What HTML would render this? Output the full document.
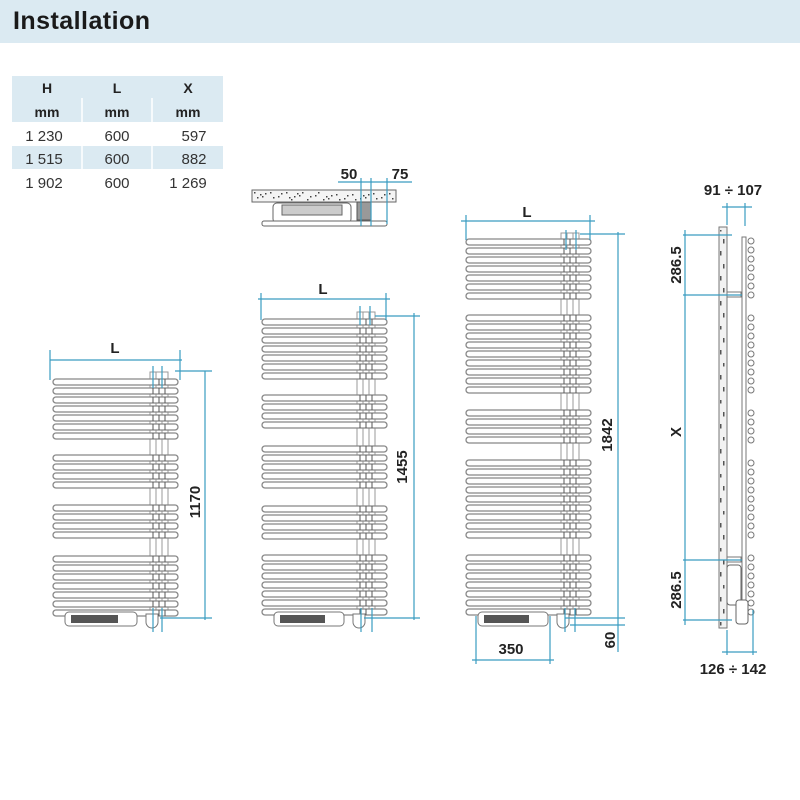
<!DOCTYPE html>
<html><head><meta charset="utf-8"><style>
html,body{margin:0;padding:0;background:#fff}
svg{display:block}
text{font-family:"Liberation Sans",sans-serif}
</style></head><body>
<svg id="s" width="800" height="800" xmlns="http://www.w3.org/2000/svg">
<rect x="0" y="0" width="800" height="43" fill="#dbeaf2"/>
<text x="13" y="29" font-size="25" font-weight="bold" fill="#1a1a1a" textLength="137">Installation</text>
<rect x="12" y="76" width="211" height="46" fill="#dbeaf2"/>
<rect x="12" y="146" width="211" height="23" fill="#dbeaf2"/>
<line x1="82" y1="98" x2="82" y2="122" stroke="#fff" stroke-width="1.5"/>
<line x1="152" y1="98" x2="152" y2="122" stroke="#fff" stroke-width="1.5"/>
<line x1="82" y1="146" x2="82" y2="169" stroke="#fff" stroke-width="1.5"/>
<line x1="152" y1="146" x2="152" y2="169" stroke="#fff" stroke-width="1.5"/>
<g font-size="14" font-weight="bold" fill="#222" text-anchor="middle">
<text x="47" y="93">H</text><text x="117" y="93">L</text><text x="188" y="93">X</text>
<text x="47" y="117">mm</text><text x="117" y="117">mm</text><text x="188" y="117">mm</text>
</g>
<g font-size="15" fill="#333" text-anchor="middle">
<text x="44" y="141">1 230</text><text x="117" y="141">600</text><text x="194" y="141">597</text>
<text x="44" y="164">1 515</text><text x="117" y="164">600</text><text x="194" y="164">882</text>
<text x="44" y="188">1 902</text><text x="117" y="188">600</text><text x="188" y="188">1 269</text>
</g>
<g id="d"></g>
</svg>
<script>
var g=document.getElementById('d'),h='';
var C='#3a9cc0';
function L(x1,y1,x2,y2,c,w){h+='<line x1="'+x1+'" y1="'+y1+'" x2="'+x2+'" y2="'+y2+'" stroke="'+(c||C)+'" stroke-width="'+(w||1.2)+'"/>';}
function T(x,y,t,r,s){h+='<text x="'+x+'" y="'+y+'" font-size="'+(s||15)+'" font-weight="bold" fill="#222" text-anchor="middle"'+(r?' transform="rotate(-90 '+x+' '+y+')"':'')+'>'+t+'</text>';}
function rad(x0,x1,cx,groups,top,bot){
 h+='<rect x="'+cx+'" y="'+top+'" width="18" height="'+(bot-top)+'" fill="#fff" stroke="#999" stroke-width="1"/>';
 L(cx+6,top,cx+6,bot,'#999',1);L(cx+12,top,cx+12,bot,'#999',1);
 groups.forEach(function(gr){for(var i=0;i<gr[1];i++){var y=gr[0]+i*9;
  h+='<rect x="'+x0+'" y="'+(y-3)+'" width="'+(x1-x0)+'" height="6" rx="3" fill="#fff" stroke="#888" stroke-width="1.3"/>';
  for(var k=0;k<3;k++)L(cx+3+k*6,y-3,cx+3+k*6,y+3,'#555',1);}});
 h+='<rect x="'+(x0+12)+'" y="'+(bot-2)+'" width="'+(cx-x0-25)+'" height="14" rx="4" fill="#fff" stroke="#777"/>';
 h+='<rect x="'+(x0+18)+'" y="'+(bot+1)+'" width="'+(cx-x0-50)+'" height="8" fill="#555"/>';
 h+='<path d="M'+(cx-4)+' '+(bot)+' v8 a6 6 0 0 0 12 0 v-8 z" fill="#fff" stroke="#777"/>';
}
rad(53,178,150,[[382,7],[458,4],[508,4],[559,7]],372,614);
L(50,360,182,360);L(50,350,50,380);L(180,350,180,380);T(115,353,'L');
L(205,371,205,620);L(175,371,212,371);L(160,618,212,618);L(153,366,153,388);L(162,366,162,388);L(153,608,153,632);L(162,608,162,632);
T(200,502,'1170',true);
rad(262,387,357,[[322,7],[398,4],[449,5],[509,4],[558,7]],312,614);
L(258,299,390,299);L(261,293,261,320);L(386,293,386,320);T(323,294,'L');
L(414,313,414,620);L(375,316,420,316);L(364,618,420,618);L(360,306,360,325);L(370,306,370,325);L(361,608,361,632);L(372,608,372,632);
T(407,467,'1455',true);
rad(466,591,561,[[242,7],[318,9],[413,4],[463,9],[558,7]],233,614);
L(461,221,595,221);L(466,215,466,240);L(590,215,590,240);T(527,217,'L');
L(618,232,618,620);L(580,234,625,234);L(565,618,625,618);L(566,230,566,250);L(576,230,576,250);L(565,608,565,632);L(575,608,575,632);
L(618,620,618,652);L(570,625,625,625);
T(612,435,'1842',true);T(615,640,'60',true);
L(476,616,476,664);L(550,616,550,664);L(472,660,554,660);T(511,654,'350');
h+='<rect x="252" y="190" width="144" height="12" fill="#f4f4f4" stroke="#666"/>';
for(var i=0;i<40;i++){h+='<rect x="'+(254+((i*37)%140))+'" y="'+(192+((i*7)%8))+'" width="1.5" height="1.5" fill="#444"/>';}
h+='<rect x="273" y="203" width="78" height="20" rx="4" fill="#fff" stroke="#666"/>';
h+='<rect x="282" y="205" width="60" height="10" fill="#ccc" stroke="#666"/>';
h+='<rect x="262" y="221" width="125" height="5" rx="2" fill="#fff" stroke="#666"/>';
h+='<rect x="357" y="202" width="14" height="18" fill="#999" stroke="#555"/>';
L(338,182,412,182);L(361,178,361,226);L(371,178,371,226);L(387,178,387,224);
T(349,179,'50');T(400,179,'75');
h+='<rect x="719" y="227" width="8" height="401" fill="#f2f2f2" stroke="#777"/>';
for(var i=0;i<120;i++){h+='<rect x="'+(720+(i*3)%6)+'" y="'+(230+(i*37)%395)+'" width="1.5" height="1.5" fill="#555"/>';}
h+='<rect x="742" y="237" width="4" height="383" fill="#fff" stroke="#777"/>';
var ys=[];for(var i=0;i<7;i++)ys.push(241+i*9);for(var i=0;i<9;i++)ys.push(318+i*9);for(var i=0;i<4;i++)ys.push(413+i*9);for(var i=0;i<9;i++)ys.push(463+i*9);for(var i=0;i<7;i++)ys.push(558+i*9);
ys.forEach(function(y){h+='<circle cx="751" cy="'+y+'" r="3" fill="#fff" stroke="#777"/>';});
h+='<rect x="727" y="292" width="14" height="5" fill="#fff" stroke="#777"/><rect x="727" y="557" width="14" height="5" fill="#fff" stroke="#777"/>';
h+='<rect x="727" y="565" width="14" height="40" rx="3" fill="#fff" stroke="#666"/><rect x="736" y="600" width="12" height="24" rx="3" fill="#fff" stroke="#666"/>';
L(683,235,732,235);L(683,295,742,295);L(683,560,742,560);L(683,620,732,620);L(685,230,685,625);
T(681,265,'286.5',true);T(681,590,'286.5',true);T(681,432,'X',true);
L(727,203,727,225);L(745,203,745,226);L(722,207,752,207);T(733,195,'91 ÷ 107');
L(727,630,727,655);L(753,610,753,655);L(722,652,757,652);T(733,674,'126 ÷ 142');
g.innerHTML=h;
</script>
</body></html>
